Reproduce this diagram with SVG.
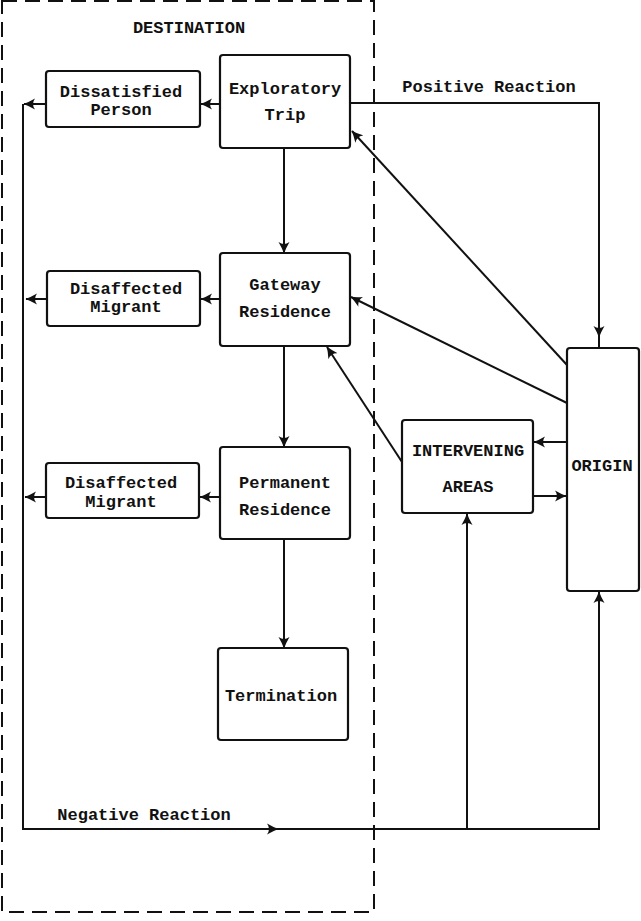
<svg xmlns="http://www.w3.org/2000/svg" width="641" height="921" viewBox="0 0 641 921">
<style>
.box{fill:#fff;stroke:#111;stroke-width:2.2}
.ln{fill:none;stroke:#111;stroke-width:2}
.dash{fill:none;stroke:#111;stroke-width:2;stroke-dasharray:15 8}
text{font-family:"Liberation Mono","Courier New",monospace;font-weight:bold;font-size:17px;fill:#111;text-anchor:middle}
</style>
<defs>
<marker id="ah" viewBox="0 0 12 12" refX="11" refY="6" markerWidth="12" markerHeight="12" markerUnits="userSpaceOnUse" orient="auto">
<path d="M0,0.5 Q6,4 11.5,6 Q6,8 0,11.5 Q4,6 0,0.5 Z" fill="#111"/>
</marker>
</defs>
<rect width="641" height="921" fill="#fff"/>
<g id="destination">
<rect x="2" y="1" width="372" height="911" class="dash"/>
<text x="189" y="33">DESTINATION</text>
</g>
<g id="connectors">
<!-- Exploratory -> Dissatisfied -->
<line x1="220" y1="104" x2="201" y2="104" class="ln" marker-end="url(#ah)"/>
<!-- Dissatisfied -> left rail -->
<line x1="46" y1="104" x2="24" y2="104" class="ln" marker-end="url(#ah)"/>
<!-- left rail down and Negative Reaction -->
<path d="M23,104 V829 H600" class="ln"/>
<line x1="200" y1="829" x2="278" y2="829" class="ln" marker-end="url(#ah)"/>
<!-- Exploratory -> Gateway -->
<line x1="284" y1="148" x2="284" y2="253" class="ln" marker-end="url(#ah)"/>
<!-- Gateway -> Disaffected 1 -->
<line x1="220" y1="299" x2="201" y2="299" class="ln" marker-end="url(#ah)"/>
<line x1="47" y1="299" x2="26" y2="299" class="ln" marker-end="url(#ah)"/>
<!-- Gateway -> Permanent -->
<line x1="284" y1="346" x2="284" y2="447" class="ln" marker-end="url(#ah)"/>
<!-- Permanent -> Disaffected 2 -->
<line x1="220" y1="497" x2="200" y2="497" class="ln" marker-end="url(#ah)"/>
<line x1="46" y1="497" x2="25" y2="497" class="ln" marker-end="url(#ah)"/>
<!-- Permanent -> Termination -->
<line x1="284" y1="539" x2="284" y2="648" class="ln" marker-end="url(#ah)"/>
<!-- Positive Reaction -->
<path d="M350,103 H599 V348" class="ln"/>
<line x1="599" y1="300" x2="599" y2="337" class="ln" marker-end="url(#ah)"/>
<!-- Origin -> Exploratory -->
<line x1="567" y1="365" x2="352" y2="131" class="ln" marker-end="url(#ah)"/>
<!-- Origin -> Gateway -->
<line x1="567" y1="403" x2="351" y2="297" class="ln" marker-end="url(#ah)"/>
<!-- Intervening -> Gateway -->
<line x1="402" y1="462" x2="327" y2="347" class="ln" marker-end="url(#ah)"/>
<!-- Origin <-> Intervening -->
<line x1="567" y1="442" x2="534" y2="442" class="ln" marker-end="url(#ah)"/>
<line x1="533" y1="496" x2="566" y2="496" class="ln" marker-end="url(#ah)"/>
<!-- up to Intervening -->
<line x1="467" y1="829" x2="467" y2="514" class="ln" marker-end="url(#ah)"/>
<!-- up to Origin -->
<line x1="599" y1="829" x2="599" y2="592" class="ln" marker-end="url(#ah)"/>
<text x="489" y="92">Positive Reaction</text>
<text x="144" y="820">Negative Reaction</text>
</g>
<g id="dissatisfied">
<rect x="46" y="71" width="154" height="56" rx="3" class="box"/>
<text x="121" y="97">Dissatisfied</text>
<text x="121" y="115">Person</text>
</g>
<g id="exploratory">
<rect x="220" y="55" width="130" height="93" rx="3" class="box"/>
<text x="285" y="94">Exploratory</text>
<text x="285" y="120">Trip</text>
</g>
<g id="disaffected1">
<rect x="47" y="271" width="153" height="55" rx="3" class="box"/>
<text x="126" y="294">Disaffected</text>
<text x="126" y="312">Migrant</text>
</g>
<g id="gateway">
<rect x="220" y="253" width="130" height="93" rx="3" class="box"/>
<text x="285" y="290">Gateway</text>
<text x="285" y="317">Residence</text>
</g>
<g id="disaffected2">
<rect x="46" y="463" width="153" height="55" rx="3" class="box"/>
<text x="121" y="488">Disaffected</text>
<text x="121" y="507">Migrant</text>
</g>
<g id="permanent">
<rect x="220" y="447" width="130" height="92" rx="3" class="box"/>
<text x="285" y="488">Permanent</text>
<text x="285" y="515">Residence</text>
</g>
<g id="termination">
<rect x="218" y="648" width="130" height="92" rx="3" class="box"/>
<text x="281" y="701">Termination</text>
</g>
<g id="intervening">
<rect x="402" y="420" width="131" height="93" rx="3" class="box"/>
<text x="468" y="456">INTERVENING</text>
<text x="468" y="492">AREAS</text>
</g>
<g id="origin">
<rect x="567" y="348" width="72" height="243" rx="3" class="box"/>
<text x="602" y="471">ORIGIN</text>
</g>
</svg>
